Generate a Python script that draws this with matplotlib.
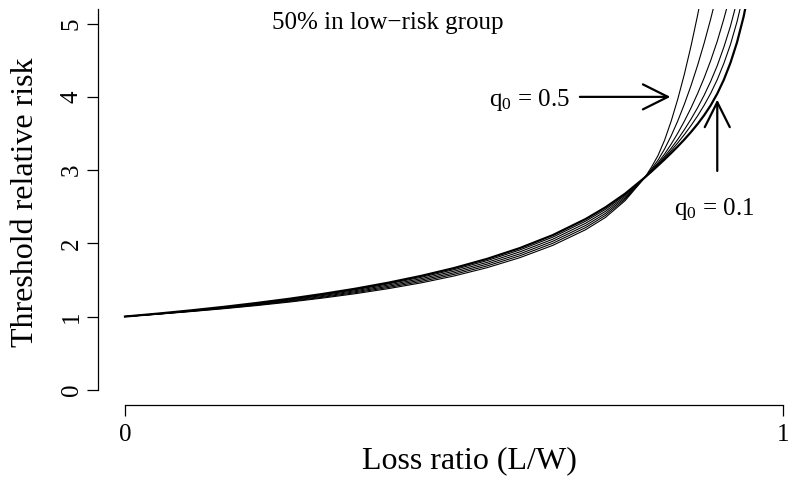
import matplotlib
matplotlib.use("Agg")
import matplotlib.pyplot as plt
from matplotlib.patches import FancyArrowPatch

plt.rcParams['font.family'] = ['Liberation Serif', 'DejaVu Serif']
plt.rcParams['mathtext.fontset'] = 'custom'
plt.rcParams['mathtext.rm'] = 'Liberation Serif'
plt.rcParams['mathtext.it'] = 'Liberation Serif:italic'

# Loss ratio (L/W)
loss_ratio = [0, .05, .1, .15, .2, .25, .3, .35, .4, .45, .5, .55, .6, .65, .7, .73, .76, .79,
              .80, .81, .82, .83, .84, .85, .86, .87, .88, .89, .90, .91, .92, .93, .94, .95]

# Threshold relative risk, one curve per q0 (steepest = q0 0.5, thick = q0 0.1)
rr_a = [1.000, 1.032, 1.068, 1.107, 1.150, 1.198, 1.252, 1.312, 1.381, 1.460, 1.554, 1.667, 1.804, 1.972, 2.186, 2.353, 2.583, 2.900,
        3.040, 3.200, 3.410, 3.670, 3.970, 4.310, 4.690, 5.110, 5.570, 6.070, 6.600, 7.200, 7.800, 8.500, 9.200, 10.00]
rr_b = [1.000, 1.034, 1.071, 1.112, 1.157, 1.207, 1.263, 1.326, 1.397, 1.479, 1.576, 1.691, 1.830, 2.000, 2.215, 2.381, 2.602, 2.900,
        3.012, 3.137, 3.289, 3.469, 3.672, 3.900, 4.151, 4.428, 4.732, 5.064, 5.424, 5.836, 6.265, 6.772, 7.311, 7.946]
rr_c = [1.000, 1.035, 1.074, 1.117, 1.164, 1.216, 1.274, 1.339, 1.413, 1.498, 1.597, 1.715, 1.856, 2.028, 2.244, 2.408, 2.621, 2.900,
        2.997, 3.101, 3.220, 3.355, 3.504, 3.668, 3.847, 4.043, 4.258, 4.496, 4.760, 5.065, 5.398, 5.796, 6.244, 6.785]
rr_d = [1.000, 1.037, 1.078, 1.122, 1.171, 1.225, 1.286, 1.353, 1.430, 1.517, 1.619, 1.739, 1.883, 2.056, 2.274, 2.436, 2.640, 2.900,
        2.989, 3.083, 3.186, 3.299, 3.420, 3.552, 3.695, 3.850, 4.021, 4.212, 4.427, 4.679, 4.964, 5.307, 5.710, 6.204]
rr_e = [1.000, 1.038, 1.081, 1.127, 1.178, 1.234, 1.297, 1.366, 1.446, 1.536, 1.640, 1.763, 1.909, 2.084, 2.303, 2.463, 2.659, 2.900,
        2.985, 3.072, 3.166, 3.266, 3.372, 3.485, 3.607, 3.739, 3.885, 4.048, 4.236, 4.457, 4.714, 5.026, 5.402, 5.869]
rr_thick = [1.000, 1.040, 1.084, 1.132, 1.185, 1.243, 1.308, 1.380, 1.462, 1.555, 1.662, 1.787, 1.935, 2.112, 2.332, 2.491, 2.678, 2.900,
            2.980, 3.062, 3.146, 3.233, 3.323, 3.418, 3.519, 3.628, 3.748, 3.884, 4.044, 4.234, 4.464, 4.744, 5.094, 5.534]

thin_curves = [rr_a, rr_b, rr_c, rr_d, rr_e]

fig = plt.figure(figsize=(7.89, 4.82), dpi=100)
ax = fig.add_axes([98 / 789, 77 / 482, 1 - 98 / 789, (405 - 9) / 482])

for rr in thin_curves:
    ax.plot(loss_ratio, rr, color='black', lw=0.8)
ax.plot(loss_ratio, rr_thick, color='black', lw=1.6)

ax.set_xlim(-0.041, 1.009)
ax.set_ylim(-0.208, 5.2)

# R-style axes: only left and bottom
for s in ['top', 'right']:
    ax.spines[s].set_visible(False)
ax.spines['left'].set_bounds(0, 5.2)
ax.spines['bottom'].set_bounds(0, 1)
ax.spines['left'].set_linewidth(0.9)
ax.spines['bottom'].set_linewidth(0.9)

ax.set_xticks([0, 1])
ax.set_yticks([0, 1, 2, 3, 4, 5])
ax.tick_params(direction='out', length=8, width=0.9, labelsize=18)
ax.tick_params(axis='y', pad=3)
ax.tick_params(axis='x', pad=6)
for lab in ax.get_yticklabels():
    lab.set_rotation(90)
    lab.set_va('center')

ax.set_xlabel('Loss ratio (L/W)', fontsize=23)
ax.xaxis.set_label_coords(0.537, -0.104)
ax.set_ylabel('Threshold relative risk', fontsize=23)
ax.yaxis.set_label_coords(-0.084, 0.513)

ax.text(0.40, 5.01, '50% in low\u2212risk group', fontsize=18, ha='center', va='center')

# q0 annotations
ax.text(0.676, 3.96, 'q$_0$ = 0.5', fontsize=18, ha='right', va='center')
ax.add_patch(FancyArrowPatch((0.687, 4.0), (0.833, 4.0), arrowstyle='->,head_length=18,head_width=9',
                             mutation_scale=1, lw=1.6, color='black'))
ax.text(0.895, 2.47, 'q$_0$ = 0.1', fontsize=18, ha='center', va='center')
ax.add_patch(FancyArrowPatch((0.9, 2.95), (0.9, 4.0), arrowstyle='->,head_length=18,head_width=9',
                             mutation_scale=1, lw=1.6, color='black'))

fig.savefig('out.png', dpi=100)
